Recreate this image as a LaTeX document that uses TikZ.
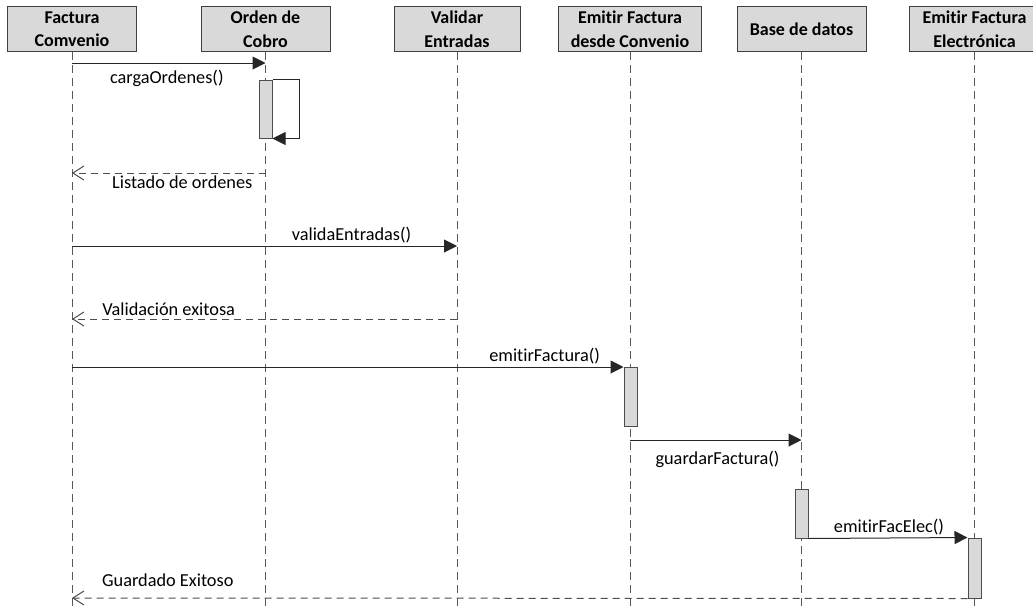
\documentclass[tikz,border=0pt]{standalone}
\usepackage{fontspec}
\setmainfont[Ligatures=NoCommon]{Carlito}
\usetikzlibrary{arrows.meta}

\begin{document}
\begin{tikzpicture}[x=1pt,y=-1pt,
    head/.style={draw=black!75, fill=black!15, line width=1pt, minimum width=129pt,
        minimum height=45pt, inner sep=0pt, align=center,
        font=\bfseries\fontsize{18}{23.5}\selectfont},
    life/.style={draw=black!65, line width=1pt, dash pattern=on 8pt off 5pt},
    act/.style={draw=black!70, fill=black!15, line width=1pt, minimum width=13pt, inner sep=0pt},
    call/.style={-{Triangle[length=13pt,width=13pt]}, draw=black!85, line width=1pt},
    reply/.style={-{Straight Barb[length=11pt,width=14pt]}, draw=black!70, line width=1pt,
        dash pattern=on 7pt off 5pt},
    msg/.style={font=\fontsize{18.3}{20}\selectfont, inner sep=2.5pt}]

\useasboundingbox (0,0) rectangle (1033,606);

% Headers:
\node[head] (fc) at (72,29) {Factura\\Comvenio};
\node[head] (oc) at (265.5,29) {Orden de\\Cobro};
\node[head, minimum width=126pt] (ve) at (457,29) {Validar\\Entradas};
\node[head, minimum width=143pt] (ef) at (630,29) {Emitir Factura\\desde Convenio};
\node[head] (bd) at (801.5,29) {Base de datos};
\node[head, minimum width=130pt] (fe) at (974.5,29) {Emitir Factura\\Electrónica};

% Lifelines:
\foreach \n in {fc,oc,ve,ef,bd,fe}
    \draw[life] (\n.south) -- (\n |- 0,612);

% Activations:
\node[act, minimum height=58pt] (a1) at (265.5,109) {};
\node[act, minimum height=59pt] (a2) at (630.5,397) {};
\node[act, minimum height=49pt] (a3) at (801.5,513.5) {};
\node[act, minimum height=60pt] (a4) at (974.5,568) {};

% Messages:
\draw[call] (fc |- 0,63) -- node[msg, below, pos=0.49, yshift=-4pt] {cargaOrdenes()} (oc |- 0,63);
\draw[call] (a1.north east) -- ++(27,0) |- (a1.south east);
\draw[reply] (oc |- 0,173) -- node[msg, below, pos=0.43] {Listado de ordenes} (fc |- 0,173);
\draw[call] (fc |- 0,246) -- node[msg, above, pos=0.726] {validaEntradas()} (ve |- 0,246);
\draw[reply] (ve |- 0,319) -- node[msg, above, pos=0.749] {Validación exitosa} (fc |- 0,319);
\draw[call] (fc |- 0,367) -- node[msg, above, pos=0.857] {emitirFactura()} (a2.north west);
\draw[call] (ef |- 0,440) -- node[msg, below, pos=0.51, yshift=-8pt] {guardarFactura()} (bd |- 0,440);
\draw[call] (a3.south east) -- node[msg, above, pos=0.506] {emitirFacElec()} (a4.north west);
\draw[reply] (a4.south west) -- node[msg, above, pos=0.893, yshift=8pt] {Guardado Exitoso} (fc |- 0,598);

\end{tikzpicture}
\end{document}
